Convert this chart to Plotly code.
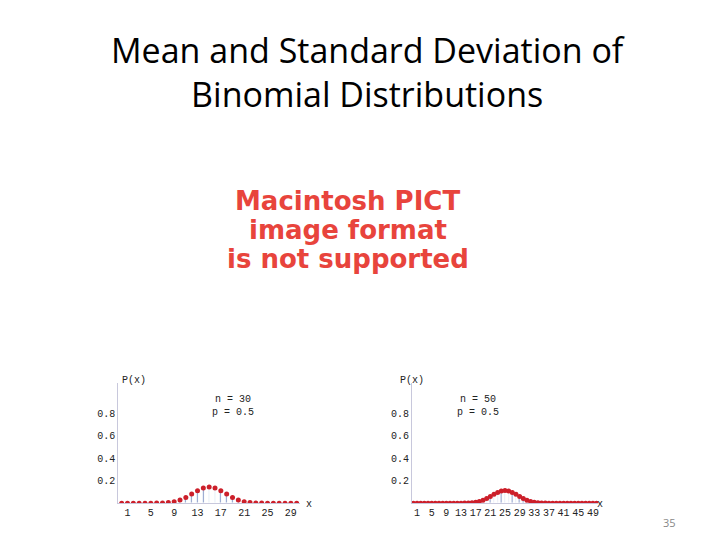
import plotly.graph_objects as go

# P(x) for n = 30, p = 0.5, x = 0..30
x30 = list(range(31))
p30 = [0, 0, 0, 0, 0, 0.0001, 0.0006, 0.0019, 0.0055, 0.0133, 0.028, 0.0509,
       0.0806, 0.1115, 0.1354, 0.1445, 0.1354, 0.1115, 0.0806, 0.0509, 0.028,
       0.0133, 0.0055, 0.0019, 0.0006, 0.0001, 0, 0, 0, 0, 0]

# P(x) for n = 50, p = 0.5, x = 0..50
x50 = list(range(51))
p50 = [0] * 12 + [0.0001, 0.0003, 0.0008, 0.002, 0.0044, 0.0087, 0.016, 0.027,
                  0.0419, 0.0598, 0.0788, 0.096, 0.108, 0.1123, 0.108, 0.096,
                  0.0788, 0.0598, 0.0419, 0.027, 0.016, 0.0087, 0.0044, 0.002,
                  0.0008, 0.0003, 0.0001] + [0] * 12

ticks30 = [1, 5, 9, 13, 17, 21, 25, 29]
ticks50 = [1, 5, 9, 13, 17, 21, 25, 29, 33, 37, 41, 45, 49]
yticks = [0.2, 0.4, 0.6, 0.8]

mono = dict(family="Liberation Mono", size=10, color="#222")

fig = go.Figure()
for xs, ps, ax in [(x30, p30, ""), (x50, p50, "2")]:
    fig.add_trace(go.Bar(x=xs, y=ps, width=0.12, marker_color="#5a6fb0",
                         xaxis="x" + ax, yaxis="y" + ax, showlegend=False))
    fig.add_trace(go.Scatter(x=xs, y=ps, mode="markers",
                             marker=dict(color="#cc1f2a", size=5),
                             xaxis="x" + ax, yaxis="y" + ax, showlegend=False))

axis_common = dict(showgrid=False, zeroline=False, tickfont=mono, ticks="",
                   showline=True, linecolor="#c8c8dc", linewidth=1)
fig.update_layout(
    width=720, height=540, margin=dict(l=0, r=0, t=0, b=0),
    paper_bgcolor="white", plot_bgcolor="white", bargap=0,
    xaxis=dict(domain=[0.153, 0.405], range=[-0.6, 30.5], tickvals=ticks30,
               anchor="y", **axis_common),
    yaxis=dict(domain=[0.083, 0.306], range=[0, 1.07], tickvals=yticks,
               ticksuffix=" ", anchor="x", **axis_common),
    xaxis2=dict(domain=[0.561, 0.82], range=[-0.4, 50.5], tickvals=ticks50,
                anchor="y2", **axis_common),
    yaxis2=dict(domain=[0.083, 0.306], range=[0, 1.07], tickvals=yticks,
                ticksuffix=" ", anchor="x2", **axis_common),
)

red = dict(family="DejaVu Sans", size=26, color="#e8443c")
ann = [
    dict(x=0.5, y=1 - 64 / 540, text="Mean and Standard Deviation of<br>Binomial Distributions",
         font=dict(family="Open Sans", size=34, color="black")),
    dict(x=0.472, y=1 - 193 / 540, text="<b>Macintosh PICT</b>", font=red),
    dict(x=0.472, y=1 - 222 / 540, text="<b>image format</b>", font=red),
    dict(x=0.472, y=1 - 251 / 540, text="<b>is not supported</b>", font=red),
    dict(x=112 / 720, y=1 - 372 / 540, text="P(x)", font=mono),
    dict(x=202 / 720, y=1 - 398 / 540, text="n = 30<br>p = 0.5", font=mono),
    dict(x=301 / 720, y=1 - 496 / 540, text="x", font=mono),
    dict(x=404 / 720, y=1 - 372 / 540, text="P(x)", font=mono),
    dict(x=493 / 720, y=1 - 398 / 540, text="n = 50<br>p = 0.5", font=mono),
    dict(x=597 / 720, y=1 - 496 / 540, text="x", font=mono),
    dict(x=670 / 720, y=1 - 514 / 540, text="35",
         font=dict(family="Open Sans", size=11, color="#888")),
]
for a in ann:
    fig.add_annotation(xref="paper", yref="paper", showarrow=False,
                       yanchor="middle", **a)

fig.write_html("out.html")
